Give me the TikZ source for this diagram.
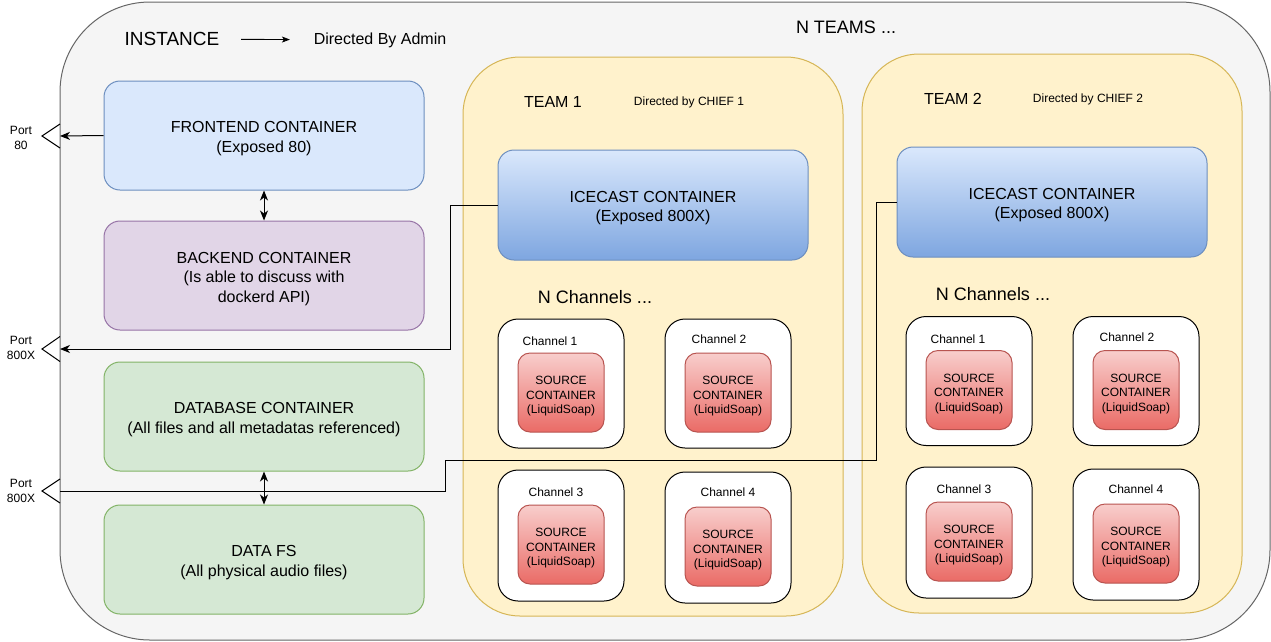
\documentclass[tikz,border=0pt]{standalone}
\usepackage{fontspec}
\setmainfont{Liberation Sans}
\usetikzlibrary{positioning,arrows.meta}

\definecolor{instfill}{HTML}{F5F5F5}
\definecolor{instdraw}{HTML}{666666}
\definecolor{bluefill}{HTML}{DAE8FC}
\definecolor{bluedraw}{HTML}{6C8EBF}
\definecolor{bluedark}{HTML}{7EA6E0}
\definecolor{purplefill}{HTML}{E1D5E7}
\definecolor{purpledraw}{HTML}{9673A6}
\definecolor{greenfill}{HTML}{D5E8D4}
\definecolor{greendraw}{HTML}{82B366}
\definecolor{yellowfill}{HTML}{FFF2CC}
\definecolor{yellowdraw}{HTML}{D6B656}
\definecolor{redfill}{HTML}{F8CECC}
\definecolor{reddark}{HTML}{EA6B66}
\definecolor{reddraw}{HTML}{B85450}
\newcommand{\bigstrut}{\rule{0pt}{17.5pt}}
\newcommand{\srcstrut}{\rule{0pt}{15.5pt}}
\newcommand{\srctext}{\srcstrut SOURCE\\CONTAINER\\(LiquidSoap)}

\begin{document}
\begin{tikzpicture}[x=1pt,y=-1pt,line width=1pt,>={Stealth[length=10pt,width=8pt,inset=3pt]}]
    \tikzstyle{instance}=[rectangle,draw=instdraw,fill=instfill,rounded corners=90pt,minimum width=1210pt,minimum height=638pt]
    \tikzstyle{box}=[rectangle,draw,rounded corners=16pt,align=center,minimum width=320pt,minimum height=109pt,font=\fontsize{16}{19.5}\selectfont]
    \tikzstyle{team}=[rectangle,draw=yellowdraw,fill=yellowfill,rounded corners=57pt,minimum width=380pt,minimum height=559pt]
    \tikzstyle{icecast}=[rectangle,draw=bluedraw,top color=bluefill,bottom color=bluedark,rounded corners=16pt,align=center,minimum width=310pt,minimum height=110pt,font=\fontsize{16}{19.5}\selectfont]
    \tikzstyle{channel}=[rectangle,draw=black,fill=white,rounded corners=20pt,minimum width=126pt,minimum height=129pt]
    \tikzstyle{source}=[rectangle,draw=reddraw,top color=redfill,bottom color=reddark,rounded corners=12pt,align=center,minimum width=86pt,minimum height=79pt,inner sep=0pt,font=\fontsize{12}{14.5}\selectfont]
    \tikzstyle{chlabel}=[font=\fontsize{12}{14.5}\selectfont]
    \tikzstyle{title}=[font=\fontsize{18}{22}\selectfont]
    \tikzstyle{small}=[font=\fontsize{12}{15.5}\selectfont,align=center]
    \tikzstyle{portline}=[draw=black]
    \useasboundingbox (0,0) rectangle (1271,641);
    % instance frame
    \node[instance] (instance) at (665,321) {};
    \node[font=\fontsize{19}{23}\selectfont] (inst) at (172,39) {INSTANCE};
    \node[font=\fontsize{16}{19}\selectfont] (admin) at (380,40) {Directed By Admin};
    \draw[->,line width=0.9pt,shorten <=18pt,shorten >=20pt,>={Stealth[length=8pt,width=6pt,inset=2pt]}] (inst) -- (admin);
    \node[title] (nteams) at (846,27) {N TEAMS ...};
    % instance containers
    \node[box,draw=bluedraw,fill=bluefill] (front) at (264,135.5) {\bigstrut FRONTEND CONTAINER\\(Exposed 80)};
    \node[box,draw=purpledraw,fill=purplefill] (back) at (264,275.5) {\bigstrut BACKEND CONTAINER\\(Is able to discuss with\\dockerd API)};
    \node[box,draw=greendraw,fill=greenfill] (db) at (264,416.5) {\bigstrut DATABASE CONTAINER\\(All files and all metadatas referenced)};
    \node[box,draw=greendraw,fill=greenfill] (fs) at (264,559.5) {\bigstrut DATA FS\\(All physical audio files)};
    % ports
    \coordinate (p80) at (60,136);
    \coordinate (p800a) at (60,349);
    \coordinate (p800b) at (60,491);
    \draw[portline] ([yshift=12pt]p80) -- ([xshift=-18pt]p80) -- ([yshift=-12pt]p80);
    \draw[portline] ([yshift=12.5pt]p800a) -- ([xshift=-18pt]p800a) -- ([yshift=-12.5pt]p800a);
    \draw[portline] ([yshift=12pt]p800b) -- ([xshift=-18pt]p800b) -- ([yshift=-12pt]p800b);
    \node[small] (port80) at (21,138) {Port\\80};
    \node[small] (port800a) at (21,348) {Port\\800X};
    \node[small] (port800b) at (21,491) {Port\\800X};
    % team 1
    \node[team] (team1) at (653,336.5) {};
    \node[font=\fontsize{16}{19}\selectfont] (t1name) at (553,102) {TEAM 1};
    \node[font=\fontsize{12}{14}\selectfont] (t1chief) at (689,102) {Directed by CHIEF 1};
    \node[icecast] (ice1) at (653,205) {\bigstrut ICECAST CONTAINER\\(Exposed 800X)};
    \node[title] (t1chan) at (595,297) {N Channels ...};
    \node[channel] (t1c1) at (561,383.5) {};
    \node[chlabel] at ([xshift=-11pt,yshift=-23pt]t1c1.north) {Channel 1};
    \node[source] (t1s1) at ([yshift=-9pt]t1c1.center) {\srctext};
    \node[channel] (t1c2) at (728,383.5) {};
    \node[chlabel] at ([xshift=-9pt,yshift=-21pt]t1c2.north) {Channel 2};
    \node[source] (t1s2) at ([yshift=-9pt]t1c2.center) {\srctext};
    \node[channel,minimum height=131pt] (t1c3) at (561,535.5) {};
    \node[chlabel] at ([xshift=-5pt,yshift=-23pt]t1c3.north) {Channel 3};
    \node[source] (t1s3) at ([yshift=-9pt]t1c3.center) {\srctext};
    \node[channel,minimum height=131pt] (t1c4) at (728,537.5) {};
    \node[chlabel] at ([yshift=-21pt]t1c4.north) {Channel 4};
    \node[source] (t1s4) at ([yshift=-9pt]t1c4.center) {\srctext};
    % team 2
    \node[team] (team2) at (1052,333.5) {};
    \node[font=\fontsize{16}{19}\selectfont] (t2name) at (953,99) {TEAM 2};
    \node[font=\fontsize{12}{14}\selectfont] (t2chief) at (1088,99) {Directed by CHIEF 2};
    \node[icecast] (ice2) at (1052,202) {\bigstrut ICECAST CONTAINER\\(Exposed 800X)};
    \node[title] (t2chan) at (993,294) {N Channels ...};
    \node[channel] (t2c1) at (969,381) {};
    \node[chlabel] at ([xshift=-11pt,yshift=-23pt]t2c1.north) {Channel 1};
    \node[source] (t2s1) at ([yshift=-9pt]t2c1.center) {\srctext};
    \node[channel] (t2c2) at (1136,381) {};
    \node[chlabel] at ([xshift=-9pt,yshift=-21pt]t2c2.north) {Channel 2};
    \node[source] (t2s2) at ([yshift=-9pt]t2c2.center) {\srctext};
    \node[channel,minimum height=131pt] (t2c3) at (969,532.5) {};
    \node[chlabel] at ([xshift=-5pt,yshift=-23pt]t2c3.north) {Channel 3};
    \node[source] (t2s3) at ([yshift=-9pt]t2c3.center) {\srctext};
    \node[channel,minimum height=131pt] (t2c4) at (1136,534.5) {};
    \node[chlabel] at ([yshift=-21pt]t2c4.north) {Channel 4};
    \node[source] (t2s4) at ([yshift=-9pt]t2c4.center) {\srctext};
    % connectors
    \draw[->] (front.west) -- (p80);
    \draw[<->] (front.south) -- (back.north);
    \draw[<->] (db.south) -- (fs.north);
    \draw[->] (ice1.west) -- ++(-47,0) |- (p800a);
    \draw (ice2.west) -- ++(-20,0) |- (445,460) |- (p800b);
  \end{tikzpicture}
\end{document}
